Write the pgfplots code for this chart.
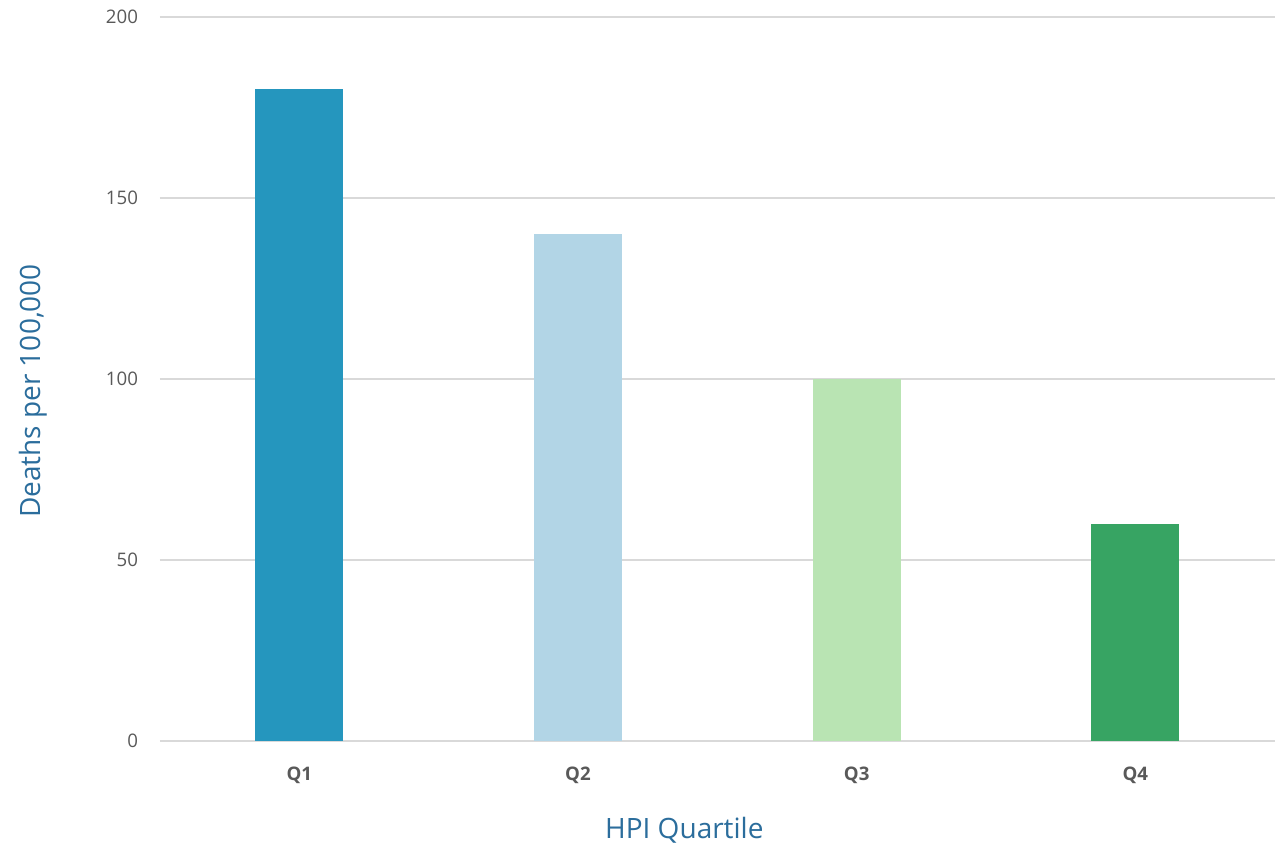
\documentclass[border=0pt]{standalone}
\usepackage{fontspec}
\setmainfont{Open Sans}
\usepackage{pgfplots}
\pgfplotsset{compat=1.18}

\definecolor{qone}{HTML}{2596BE}
\definecolor{qtwo}{HTML}{B2D5E6}
\definecolor{qthree}{HTML}{B9E4B3}
\definecolor{qfour}{HTML}{37A463}
\definecolor{labelblue}{HTML}{2B6D9C}
\definecolor{ticktext}{HTML}{595959}
\definecolor{gridgray}{HTML}{D9D9D9}

\begin{document}
\begin{tikzpicture}[x=0.75pt,y=0.75pt]
\begin{axis}[
  scale only axis,
  width=836pt, height=543pt,
  xmin=-0.5, xmax=3.5,
  ymin=0, ymax=200,
  ytick={0,50,100,150,200},
  xtick={0,1,2,3},
  xticklabels={\textbf{Q1},\textbf{Q2},\textbf{Q3},\textbf{Q4}},
  /pgf/number format/assume math mode=true,
  tick style={draw=none},
  axis line style={draw=none},
  ymajorgrids,
  grid style={gridgray, line width=1.2pt},
  yticklabel style={font=\fontsize{14}{16}\selectfont, text=ticktext, xshift=-13pt},
  xticklabel style={font=\fontsize{14}{16}\selectfont, text=ticktext, yshift=-12pt},
  ylabel={Deaths per 100,000},
  xlabel={HPI Quartile},
  every axis y label/.style={at={(rel axis cs:-0.1139,0.4834)}, rotate=90, anchor=center,
    font=\fontsize{21}{24}\selectfont, text=labelblue},
  every axis x label/.style={at={(rel axis cs:0.4704,0)}, yshift=-67pt, anchor=center,
    font=\fontsize{21}{24}\selectfont, text=labelblue},
  ybar, bar width=66pt, bar shift=0pt,
]
\coordinate (sw) at (rel axis cs:0,0);
\addplot[fill=qone, draw=none] coordinates {(0,180)};
\addplot[fill=qtwo, draw=none] coordinates {(1,140)};
\addplot[fill=qthree, draw=none] coordinates {(2,100)};
\addplot[fill=qfour, draw=none] coordinates {(3,60)};
\end{axis}
\pgfresetboundingbox
\path (sw) ++(-120pt,-77.25pt) rectangle ++(962.25pt,633pt);
\end{tikzpicture}
\end{document}
